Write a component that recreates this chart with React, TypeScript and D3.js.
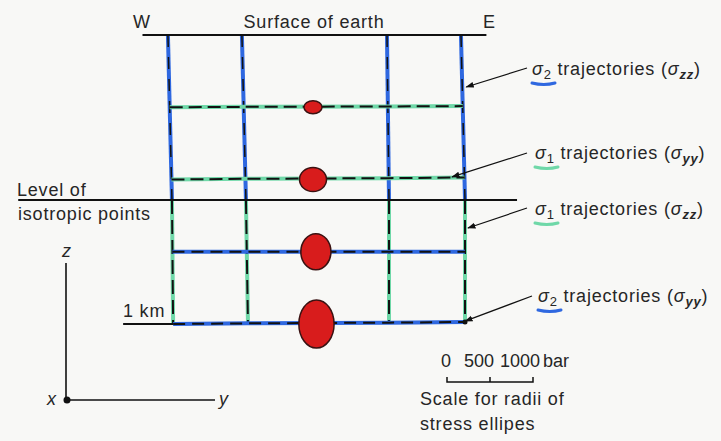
import React from 'react';
import * as d3 from 'd3';

// distances across (y) and depth (z), in km
const trajTop = [-0.502, -0.246, 0.256, 0.512];
const trajIso = [-0.488, -0.232, 0.263, 0.526];
const trajBase = [-0.484, -0.225, 0.263, 0.526];
const isoDepth = 0.571;
const upperDepths = [0.25, 0.5];
const lowerDepths = [0.75, 1.0];

// stress ellipses (radii in bar)
const ellipseDepth = [0.25, 0.5, 0.75, 1.0];
const ellipseOffset = [0, 0, 0.01, 0.012];
const sigmaYY = [105, 157, 175, 205];
const sigmaZZ = [75, 140, 210, 280];

const scaleTicks = [0, 500, 1000];

// annotations
const labelSigma = ['2', '1', '1', '2'];
const labelComp = ['zz', 'yy', 'zz', 'yy'];
const labelTip: [number, number][] = [[0.53, 0.18], [0.481, 0.491], [0.536, 0.668], [0.526, 0.99]];

const W = 721, H = 441;
const BLUE = '#2f68e0';
const GREEN = '#6fd8a8';
const INK = '#262626';

export default function App() {
  const x = d3.scaleLinear().domain([0, 1]).range([313, 602]);
  const z = d3.scaleLinear().domain([0, 1]).range([35, 324]);
  const r = d3.scaleLinear().domain([0, 1000]).range([0, 86]);
  const bar = d3.scaleLinear().domain([0, 1000]).range([447, 533]);
  const line = d3.line<[number, number]>().x(d => x(d[0])).y(d => z(d[1]));

  // x position of a vertical trajectory at given depth
  const vAt = (i: number, depth: number) => {
    if (depth <= isoDepth) return d3.scaleLinear().domain([0, isoDepth]).range([trajTop[i], trajIso[i]])(depth);
    return d3.scaleLinear().domain([isoDepth, 1]).range([trajIso[i], trajBase[i]])(depth);
  };
  const hLine = (depth: number, tilt: number) =>
    line(trajTop.map((_, i) => [vAt(i, depth), depth + tilt * (i / 3)] as [number, number]));

  const dashed = (d: string | null, color: string, key: string, dash = '13,6', bw = 2) => (
    <g key={key}>
      <path d={d || ''} fill="none" stroke={color} strokeWidth={4} />
      <path d={d || ''} fill="none" stroke="#111" strokeWidth={bw} strokeDasharray={dash} />
    </g>
  );

  const labelY = [75, 159, 215, 302];
  const labelX = [532, 535, 535, 538];
  const arrowStart: [number, number][] = [[527, 68], [527, 153], [527, 208], [532, 296]];
  const tickLabelX = [446, 479, 520];

  return (
    <svg width={W} height={H} style={{ position: 'absolute', left: 0, top: 0, background: '#f8f8f6' }}
      fontFamily="'Liberation Sans', Arial, sans-serif" fontSize={18} letterSpacing={0.8} fill={INK}>
      <defs>
        <marker id="ah" viewBox="0 0 10 10" refX="9" refY="5" markerWidth="7" markerHeight="7" orient="auto">
          <path d="M0,1.5 L10,5 L0,8.5 z" fill="#111" />
        </marker>
      </defs>

      {/* upper section: sigma2 verticals (blue), sigma1 horizontals (green) */}
      {trajTop.map((t, i) => dashed(line([[t, 0], [trajIso[i], isoDepth]]), BLUE, 'uv' + i, '12,10', 1.5))}
      {upperDepths.map((d, i) => dashed(hLine(d, i === 0 ? -0.004 : -0.007), GREEN, 'uh' + i))}
      {/* lower section: sigma1 verticals (green), sigma2 horizontals (blue) */}
      {trajIso.map((t, i) => dashed(line([[t, isoDepth], [trajBase[i], 1]]), GREEN, 'lv' + i, '14,6'))}
      {lowerDepths.map((d, i) => dashed(hLine(d, i === 0 ? 0 : -0.007), BLUE, 'lh' + i, '12,7'))}

      {/* surface, isotropic level and 1 km line */}
      <path d={line([[-0.59, 0], [0.6, 0]]) || ''} stroke="#111" strokeWidth={2} />
      <path d={line([[-1.02, isoDepth], [0.706, isoDepth]]) || ''} stroke="#111" strokeWidth={2} />
      <path d={line([[-0.657, 1], [trajBase[0], 1]]) || ''} stroke="#111" strokeWidth={2} />

      {/* stress ellipses */}
      {ellipseDepth.map((d, i) => (
        <ellipse key={'e' + i} cx={x(ellipseOffset[i])} cy={z(d)} rx={r(sigmaYY[i])} ry={r(sigmaZZ[i])}
          fill="#d81c1c" stroke="#3a1212" strokeWidth={1.5} />
      ))}

      {/* top labels */}
      <text x={133} y={28}>W</text>
      <text x={314} y={28} textAnchor="middle">Surface of earth</text>
      <text x={483} y={28}>E</text>
      <text x={17} y={196}>Level of</text>
      <text x={18} y={220}>isotropic points</text>
      <text x={123} y={317}>1 km</text>

      {/* annotation labels */}
      {labelSigma.map((s, i) => {
        const tip = labelTip[i];
        const underline = s === '2' ? BLUE : GREEN;
        const lx = labelX[i], ly = labelY[i];
        return (
          <g key={'lab' + i}>
            <line x1={arrowStart[i][0]} y1={arrowStart[i][1]} x2={x(tip[0])} y2={z(tip[1])}
              stroke="#111" strokeWidth={1.2} markerEnd="url(#ah)" />
            <path d={`M${lx},${ly + 8} Q${lx + 12},${ly + 11} ${lx + 23},${ly + 8}`} fill="none"
              stroke={underline} strokeWidth={3} strokeLinecap="round" />
            <text x={lx} y={ly}>
              <tspan fontStyle="italic">σ</tspan>
              <tspan fontSize={13} dy={4}>{s}</tspan>
              <tspan dy={-4}> trajectories (</tspan>
              <tspan fontStyle="italic">σ</tspan>
              <tspan fontSize={13} dy={4} fontWeight="bold" fontStyle="italic">{labelComp[i]}</tspan>
              <tspan dy={-4}>)</tspan>
            </text>
          </g>
        );
      })}
      {/* corner dot at end of lowest trajectory */}
      <circle cx={x(trajBase[3])} cy={z(0.993)} r={2.5} fill="#111" />

      {/* coordinate axes */}
      <line x1={66} y1={263} x2={66} y2={400} stroke="#111" strokeWidth={1.6} />
      <line x1={66} y1={400} x2={215} y2={400} stroke="#111" strokeWidth={1.6} />
      <circle cx={67} cy={400} r={3.5} fill="#111" />
      <text x={67} y={257} textAnchor="middle" fontStyle="italic">z</text>
      <text x={52} y={405} textAnchor="middle" fontStyle="italic">x</text>
      <text x={224} y={405} textAnchor="middle" fontStyle="italic">y</text>

      {/* scale bar */}
      <path d={`M${bar(0)},377 V382 H${bar(1000)} V377`} fill="none" stroke="#111" strokeWidth={1.5} />
      <line x1={bar(500)} y1={377} x2={bar(500)} y2={382} stroke="#111" strokeWidth={1.5} />
      {scaleTicks.map((t, i) => (
        <text key={'st' + t} x={tickLabelX[i]} y={367} textAnchor="middle" letterSpacing={0}>{t}</text>
      ))}
      <text x={543} y={367} letterSpacing={0}>bar</text>
      <text x={420} y={405}>Scale for radii of</text>
      <text x={420} y={430}>stress ellipes</text>
    </svg>
  );
}
